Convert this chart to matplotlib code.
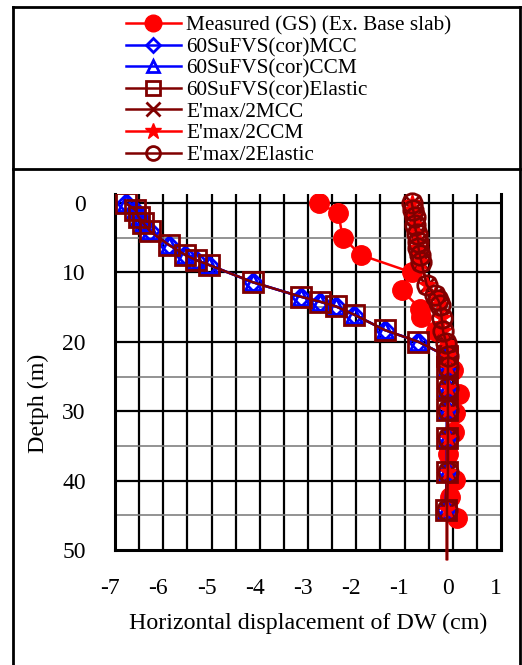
import matplotlib
matplotlib.use("Agg")
import matplotlib.pyplot as plt
from matplotlib.lines import Line2D
import matplotlib.transforms as mtrans
import numpy as np

plt.rcParams['font.family'] = ['Liberation Serif', 'DejaVu Serif']

# ---------------- data ----------------
meas_depth = [0.0, 1.5, 5.0, 7.5, 10.0, 12.5, 15.2, 16.4, 18.5, 21.0, 24.0, 27.5, 30.3, 33.0, 36.1, 39.9, 42.3, 45.4]
meas_x     = [-2.78, -2.37, -2.28, -1.90, -0.85, -1.06, -0.68, -0.65, -0.35, -0.10, 0.00, 0.12, 0.05, 0.02, -0.09, 0.05, -0.05, 0.08]

su_depth = [0.0, 1.0, 2.0, 2.9, 4.1, 6.0, 7.5, 8.2, 8.9, 11.4, 13.5, 14.2, 14.9, 16.1, 18.3, 20.0, 22.1, 23.6, 26.7, 29.8, 33.9, 38.7, 44.2]
su_mcc_x = [-6.78, -6.58, -6.51, -6.41, -6.27, -5.89, -5.54, -5.33, -5.06, -4.15, -3.15, -2.76, -2.42, -2.04, -1.41, -0.71, -0.12, -0.12, -0.12, -0.12, -0.12, -0.12, -0.15]
su_ccm_x = [-6.78, -6.58, -6.51, -6.41, -6.27, -5.89, -5.54, -5.33, -5.06, -4.15, -3.15, -2.76, -2.42, -2.04, -1.41, -0.71, -0.12, -0.12, -0.12, -0.12, -0.12, -0.12, -0.15]
su_el_x  = [-6.78, -6.58, -6.51, -6.41, -6.27, -5.89, -5.54, -5.33, -5.06, -4.15, -3.15, -2.76, -2.42, -2.04, -1.41, -0.71, -0.12, -0.12, -0.12, -0.12, -0.12, -0.12, -0.15]

em_depth = [0.0, 1.0, 2.0, 3.2, 4.4, 5.6, 6.5, 7.5, 8.5, 11.8, 13.3, 14.0, 14.7, 16.6, 18.5, 20.2, 22.1, 23.6, 26.7, 29.8, 33.9, 38.7, 44.2, 51.3]
em_mcc_x = [-0.85, -0.82, -0.79, -0.79, -0.75, -0.71, -0.71, -0.68, -0.65, -0.54, -0.37, -0.30, -0.26, -0.23, -0.20, -0.13, -0.09, -0.10, -0.10, -0.10, -0.10, -0.10, -0.12, -0.12]
em_ccm_x = [-0.85, -0.82, -0.79, -0.79, -0.75, -0.71, -0.71, -0.68, -0.65, -0.54, -0.37, -0.30, -0.26, -0.23, -0.20, -0.13, -0.09, -0.10, -0.10, -0.10, -0.10, -0.10, -0.12, -0.12]
em_el_x  = [-0.85, -0.82, -0.79, -0.79, -0.75, -0.71, -0.71, -0.68, -0.65, -0.54, -0.37, -0.30, -0.26, -0.23, -0.20, -0.13, -0.09, -0.10, -0.10, -0.10, -0.10, -0.10, -0.12, -0.12]

labels = ["Measured (GS) (Ex. Base slab)", "60SuFVS(cor)MCC", "60SuFVS(cor)CCM",
          "60SuFVS(cor)Elastic", "E'max/2MCC", "E'max/2CCM", "E'max/2Elastic"]
x_ticks = [-7, -6, -5, -4, -3, -2, -1, 0, 1]
y_ticks = [0, 10, 20, 30, 40, 50]

RED = "#FF0000"
BLUE = "#0000FF"
MAROON = "#800000"

W, H = 522, 665
fig = plt.figure(figsize=(W / 100, H / 100), dpi=100)
ax = fig.add_axes([115 / W, 1 - 550 / H, (501 - 115) / W, (550 - 194) / H])

ax.set_xlim(-7, 1)
ax.set_ylim(50, -1.3)

# grid
for xv in np.arange(-6.5, 1.0, 0.5):
    ax.axvline(xv, color="black", lw=1.6, zorder=1)
for yv in range(0, 50, 10):
    ax.axhline(yv, color="black", lw=1.6, zorder=1)
for yv in range(5, 50, 10):
    ax.axhline(yv, color="#808080", lw=1.2, zorder=1)

mk_n = len(em_depth) - 1
h = []
h.append(ax.plot(meas_x, meas_depth, color=RED, lw=1.8, marker="o", ms=14,
                 mfc=RED, mec=RED, zorder=3)[0])
h.append(ax.plot(su_mcc_x, su_depth, color=BLUE, lw=1.8, marker="D", ms=9,
                 mfc="none", mec=BLUE, mew=2, zorder=4)[0])
h.append(ax.plot(su_ccm_x, su_depth, color=BLUE, lw=1.8, marker="^", ms=12,
                 mfc="none", mec=BLUE, mew=2, zorder=4)[0])
h.append(ax.plot(su_el_x, su_depth, color=MAROON, lw=1.8, marker="s", ms=15,
                 mfc="none", mec=MAROON, mew=2, zorder=4)[0])
h.append(ax.plot(em_mcc_x, em_depth, color=MAROON, lw=1.8, marker="x", ms=12,
                 mec=MAROON, mew=2, markevery=list(range(mk_n)), zorder=5, clip_on=False)[0])
h.append(ax.plot(em_ccm_x, em_depth, color=RED, lw=1.8, marker="*", ms=13,
                 mec=RED, mfc=RED, markevery=list(range(mk_n)), zorder=5, clip_on=False)[0])
h.append(ax.plot(em_el_x, em_depth, color=MAROON, lw=1.8, marker="o", ms=14,
                 mfc="none", mec=MAROON, mew=2, markevery=list(range(mk_n)), zorder=5, clip_on=False)[0])

ax.set_xticks(x_ticks)
ax.set_xticklabels([str(v) for v in x_ticks])
ax.set_yticks(y_ticks)
ax.tick_params(axis="both", length=0, labelsize=17)
ax.tick_params(axis="x", pad=20)
ax.tick_params(axis="y", pad=21)
offset = mtrans.ScaledTranslation(-5 / 100, 0, fig.dpi_scale_trans)
for lbl in ax.get_xticklabels():
    lbl.set_transform(lbl.get_transform() + offset)

for s in ["left", "bottom", "right"]:
    ax.spines[s].set_linewidth(2.2)
    ax.spines[s].set_color("black")
ax.spines["top"].set_visible(False)

ax.set_xlabel("Horizontal displacement of DW (cm)", fontsize=17.3, labelpad=10)
ax.set_ylabel("Detph (m)", fontsize=17.3)
ax.yaxis.set_label_coords(-0.172, (550 - 403) / (550 - 194))

# legend
leg = fig.legend(h, labels, loc="upper left", bbox_to_anchor=(115 / W, 1 - 5 / H),
                 frameon=False, fontsize=15.3, handlelength=2.6, handletextpad=0.25,
                 labelspacing=0.08, borderpad=0)
leg_ms = [12, 7, 9, 10, 10, 12, 10]
for lh, ms in zip(leg.legend_handles, leg_ms):
    lh.set_markersize(ms)

# outer frame
fig.add_artist(Line2D([13 / W, 13 / W], [0, 1 - 7 / H], color="black", lw=2))
fig.add_artist(Line2D([520 / W, 520 / W], [0, 1 - 7 / H], color="black", lw=2))
fig.add_artist(Line2D([13 / W, 520 / W], [1 - 7 / H, 1 - 7 / H], color="black", lw=2))
fig.add_artist(Line2D([13 / W, 520 / W], [1 - 169 / H, 1 - 169 / H], color="black", lw=2))

fig.savefig("out.png", dpi=100)
